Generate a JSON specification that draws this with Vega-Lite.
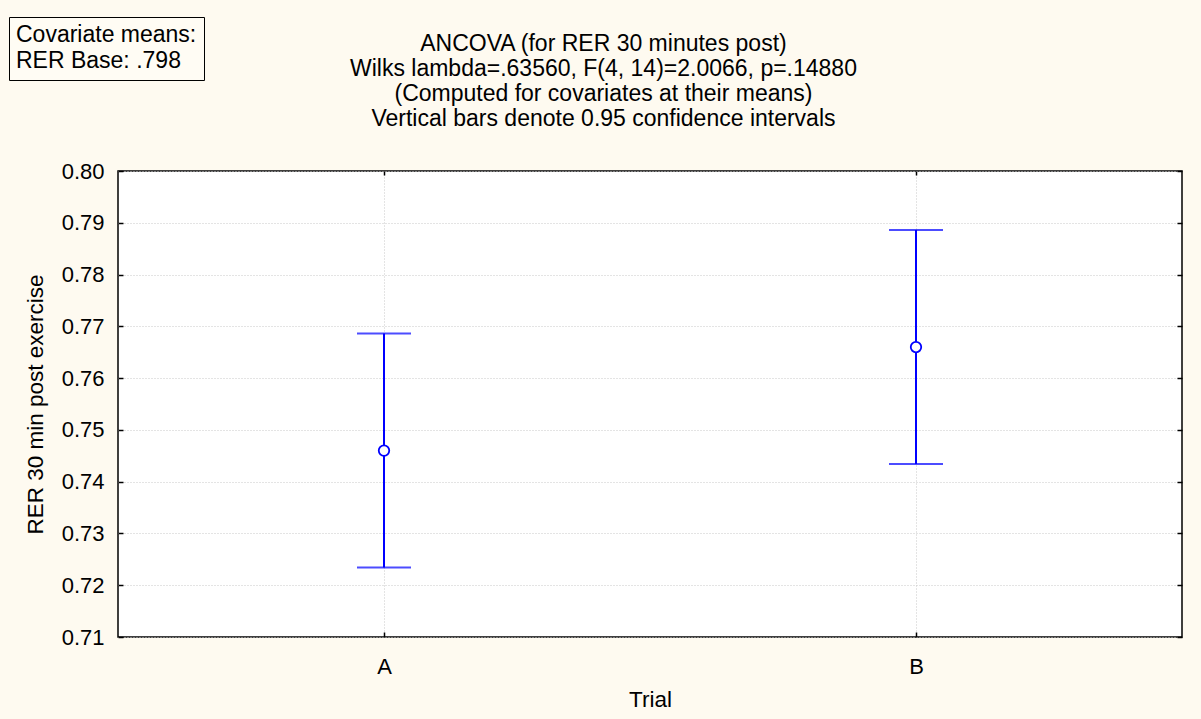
{
  "$schema": "https://vega.github.io/schema/vega-lite/v6.json",
  "width": 1201,
  "height": 719,
  "autosize": {"type": "fit", "contains": "padding"},
  "padding": {"left": 24, "top": 33, "right": 18, "bottom": 8},
  "background": "#fefaf0",
  "config": {
    "font": "Liberation Sans",
    "view": {"fill": "white", "stroke": "black", "strokeWidth": 1.5},
    "axis": {
      "labelFontSize": 22,
      "titleFontSize": 22.5,
      "titleFontWeight": "normal",
      "labelColor": "black",
      "titleColor": "black",
      "tickColor": "black",
      "tickWidth": 1.5,
      "domain": false,
      "gridColor": "#c8c8c8",
      "gridDash": [1, 2],
      "gridWidth": 1
    }
  },
  "title": {
    "text": [
      "ANCOVA (for RER 30 minutes post)",
      "Wilks lambda=.63560, F(4, 14)=2.0066, p=.14880",
      "(Computed for covariates at their means)",
      "Vertical bars denote 0.95 confidence intervals"
    ],
    "fontSize": 23,
    "fontWeight": "normal",
    "color": "black",
    "lineHeight": 25,
    "anchor": "middle",
    "frame": "bounds",
    "offset": 29
  },
  "data": {
    "values": [
      {"trial": "A", "mean": 0.746, "lower": 0.7234, "upper": 0.7686, "covariate": "RER Base: .798"},
      {"trial": "B", "mean": 0.766, "lower": 0.7434, "upper": 0.7886, "covariate": "RER Base: .798"}
    ]
  },
  "layer": [
    {
      "mark": {"type": "rule", "color": "#0000ff", "strokeWidth": 2},
      "encoding": {
        "x": {
          "field": "trial", "type": "nominal",
          "scale": {"type": "point", "padding": 0.5},
          "axis": {"orient": "bottom", "labelAngle": 0, "tickSize": -5, "labelPadding": 24, "title": "Trial", "titlePadding": 11, "grid": true}
        },
        "y": {
          "field": "lower", "type": "quantitative",
          "scale": {"domain": [0.71, 0.8], "nice": false, "zero": false},
          "axis": {"orient": "left", "values": [0.71, 0.72, 0.73, 0.74, 0.75, 0.76, 0.77, 0.78, 0.79, 0.8], "format": ".2f", "tickSize": -5, "labelPadding": 19, "title": "RER 30 min post exercise", "titlePadding": 14, "grid": true}
        },
        "y2": {"field": "upper"}
      }
    },
    {
      "mark": {"type": "tick", "color": "#0000ff", "thickness": 2, "size": 54},
      "encoding": {
        "x": {"field": "trial", "type": "nominal", "axis": {"orient": "top", "labels": false, "tickSize": -4, "grid": false, "title": null}},
        "y": {"field": "lower", "type": "quantitative", "axis": {"orient": "right", "labels": false, "tickSize": -5, "grid": false, "title": null, "values": [0.71, 0.72, 0.73, 0.74, 0.75, 0.76, 0.77, 0.78, 0.79, 0.8]}}
      }
    },
    {
      "mark": {"type": "tick", "color": "#0000ff", "thickness": 2, "size": 54},
      "encoding": {
        "x": {"field": "trial", "type": "nominal", "axis": null},
        "y": {"field": "upper", "type": "quantitative", "axis": null}
      }
    },
    {
      "mark": {"type": "point", "shape": "circle", "filled": true, "fill": "white", "stroke": "#0000ff", "strokeWidth": 1.8, "size": 110, "opacity": 1},
      "encoding": {
        "x": {"field": "trial", "type": "nominal", "axis": null},
        "y": {"field": "mean", "type": "quantitative", "axis": null},
        "shape": {
          "field": "covariate", "type": "nominal",
          "scale": {"range": ["circle"]},
          "legend": {
            "orient": "none",
            "legendX": -109,
            "legendY": -154,
            "title": "Covariate means:",
            "titleFontSize": 23,
            "titleFontWeight": "normal",
            "titleColor": "black",
            "titlePadding": 2,
            "titleLimit": 400,
            "labelFontSize": 23,
            "labelColor": "black",
            "labelLimit": 400,
            "labelOffset": -23,
            "symbolSize": 0,
            "symbolOpacity": 0,
            "symbolStrokeWidth": 0,
            "strokeColor": "black",
            "fillColor": "#fffcf4",
            "padding": 7
          }
        }
      }
    }
  ],
  "resolve": {"axis": {"x": "independent", "y": "independent"}}
}
